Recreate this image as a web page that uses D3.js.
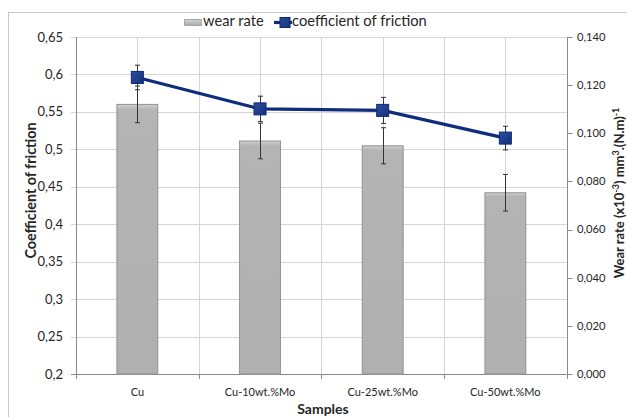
<!DOCTYPE html>
<html><head><meta charset="utf-8">
<script src="https://cdn.jsdelivr.net/npm/d3@7"></script>
<style>body{margin:0;background:#fff}svg{display:block}text{font-family:Lato,"Open Sans",sans-serif;fill:#262626}</style>
</head><body><svg id="c" width="627" height="417"></svg>
<script>
const categories = ["Cu","Cu-10wt.%Mo","Cu-25wt.%Mo","Cu-50wt.%Mo"];
const wearRate = [0.112, 0.0968, 0.0948, 0.0753];
const wearErr = [0.0076, 0.0074, 0.0075, 0.0076];
const cof = [0.596, 0.554, 0.552, 0.515];
const cofErr = [0.0164, 0.017, 0.0174, 0.0158];
const leftTicks = [0.2,0.25,0.3,0.35,0.4,0.45,0.5,0.55,0.6,0.65];
const rightTicks = [0,0.02,0.04,0.06,0.08,0.1,0.12,0.14];

const svg = d3.select("#c");
const X0=76, X1=566.7, YT=37, YB=374;
const x = d3.scaleBand().domain(categories).range([X0,X1]).paddingInner(0).paddingOuter(0);
const yL = d3.scaleLinear().domain([0.2,0.65]).range([YB,YT]);
const yR = d3.scaleLinear().domain([0,0.14]).range([YB,YT]);
const fmtL = d => String(+d.toFixed(2)).replace(".",",");
const fmtR = d => d.toFixed(3).replace(".",",");

// outer border
svg.append("rect").attr("x",8.5).attr("y",12.5).attr("width",640).attr("height",430)
  .attr("fill","none").attr("stroke","#c8c8c8");

const defs = svg.append("defs");
const g1 = defs.append("linearGradient").attr("id","barg").attr("x1",0).attr("x2",0).attr("y1",0).attr("y2",1);
g1.append("stop").attr("offset",0).attr("stop-color","#d0d0d0");
g1.append("stop").attr("offset",0.02).attr("stop-color","#b4b4b4");
g1.append("stop").attr("offset",1).attr("stop-color","#b0b0b0");
const g3 = defs.append("linearGradient").attr("id","legg").attr("x1",0).attr("x2",0).attr("y1",0).attr("y2",1);
g3.append("stop").attr("offset",0).attr("stop-color","#d4d4d4");
g3.append("stop").attr("offset",1).attr("stop-color","#aaaaaa");
const g2 = defs.append("linearGradient").attr("id","mk").attr("x1",0).attr("x2",1).attr("y1",0).attr("y2",1);
g2.append("stop").attr("offset",0).attr("stop-color","#2c4ea0");
g2.append("stop").attr("offset",1).attr("stop-color","#14307a");

// horizontal gridlines
svg.append("g").selectAll("line").data(leftTicks).join("line")
  .attr("x1",X0-5).attr("x2",X1).attr("y1",d=>Math.round(yL(d))+0.5).attr("y2",d=>Math.round(yL(d))+0.5)
  .attr("stroke",d=>d===0.2?"#8a8a8a":"#d4d4d4");
// vertical gridlines at half-category steps
const vlines = [];
categories.forEach(c=>{vlines.push(x(c)); vlines.push(x(c)+x.bandwidth()/2);});
vlines.push(X1);
svg.append("g").selectAll("line").data(vlines).join("line")
  .attr("x1",d=>Math.round(d)+0.5).attr("x2",d=>Math.round(d)+0.5).attr("y1",YT).attr("y2",YB)
  .attr("stroke",(d,i)=>(i===0||i===vlines.length-1)?"#8a8a8a":"#d4d4d4");
// bottom ticks at category boundaries
svg.append("g").selectAll("line").data(categories.map(c=>x(c)).concat([X1])).join("line")
  .attr("x1",d=>Math.round(d)+0.5).attr("x2",d=>Math.round(d)+0.5).attr("y1",YB).attr("y2",YB+5).attr("stroke","#8a8a8a");
// right ticks
svg.append("g").selectAll("line").data(rightTicks).join("line")
  .attr("x1",Math.round(X1)+0.5).attr("x2",Math.round(X1)+5.5).attr("y1",d=>Math.round(yR(d))+0.5).attr("y2",d=>Math.round(yR(d))+0.5).attr("stroke","#8a8a8a");

// tick labels
svg.append("g").selectAll("text").data(leftTicks).join("text")
  .attr("x",63).attr("y",d=>yL(d)).attr("dy","0.35em").attr("text-anchor","end")
  .attr("font-size",13).text(fmtL);
svg.append("g").selectAll("text").data(rightTicks).join("text")
  .attr("x",577).attr("y",d=>yR(d)).attr("dy","0.35em").attr("font-size",11.2).text(fmtR);
svg.append("g").selectAll("text").data(categories).join("text")
  .attr("x",d=>x(d)+x.bandwidth()/2).attr("y",396).attr("text-anchor","middle")
  .attr("font-size",11).text(d=>d);

// bars
const bw = x.bandwidth()/3;
svg.append("g").selectAll("rect").data(categories).join("rect")
  .attr("x",d=>x(d)+x.bandwidth()/2-bw/2).attr("width",bw)
  .attr("y",(d,i)=>yR(wearRate[i])).attr("height",(d,i)=>YB-yR(wearRate[i]))
  .attr("fill","url(#barg)").attr("stroke","#929292").attr("stroke-width",1);

function errBars(vals, errs, scale){
  const g = svg.append("g").attr("stroke","#333").attr("stroke-width",1);
  categories.forEach((c,i)=>{
    const cx = Math.round(x(c)+x.bandwidth()/2)+0.5;
    const a = scale(vals[i]+errs[i]), b = scale(vals[i]-errs[i]);
    g.append("line").attr("x1",cx).attr("x2",cx).attr("y1",a).attr("y2",b);
    g.append("line").attr("x1",cx-2.5).attr("x2",cx+2.5).attr("y1",a).attr("y2",a);
    g.append("line").attr("x1",cx-2.5).attr("x2",cx+2.5).attr("y1",b).attr("y2",b);
  });
}
errBars(wearRate, wearErr, yR);

// line
const line = d3.line().x(d=>x(d.c)+x.bandwidth()/2).y(d=>yL(d.v));
const pts = categories.map((c,i)=>({c,v:cof[i]}));
svg.append("path").datum(pts).attr("d",line).attr("fill","none").attr("stroke","#0d2d7d").attr("stroke-width",3.2);
errBars(cof, cofErr, yL);
svg.append("g").selectAll("rect").data(pts).join("rect")
  .attr("x",d=>x(d.c)+x.bandwidth()/2-6).attr("y",d=>yL(d.v)-6).attr("width",12).attr("height",12)
  .attr("fill","url(#mk)").attr("stroke","#0d2a70").attr("stroke-width",1);

// legend
svg.append("rect").attr("x",184.5).attr("y",19.5).attr("width",17).attr("height",6).attr("fill","url(#legg)").attr("stroke","#a8a8a8");
svg.append("text").attr("x",203).attr("y",26).attr("font-size",14.7).text("wear rate");
svg.append("line").attr("x1",274).attr("x2",292).attr("y1",22.5).attr("y2",22.5).attr("stroke","#0d2d7d").attr("stroke-width",3.2);
svg.append("rect").attr("x",280).attr("y",17.5).attr("width",10).attr("height",10).attr("fill","url(#mk)").attr("stroke","#0d2a70");
svg.append("text").attr("x",292).attr("y",26).attr("font-size",14.7).text("coefficient of friction");

// axis titles
svg.append("text").attr("transform","translate(36,190.5) rotate(-90)").attr("text-anchor","middle")
  .attr("font-size",14.3).attr("font-weight","bold").text("Coefficient of friction");
const rt = svg.append("text").attr("transform","translate(624,193) rotate(-90)").attr("text-anchor","middle")
  .attr("font-size",13).attr("font-weight","bold");
rt.append("tspan").text("Wear rate (x10");
rt.append("tspan").attr("dy",-5).attr("font-size",9).text("-3");
rt.append("tspan").attr("dy",5).text(") mm");
rt.append("tspan").attr("dy",-5).attr("font-size",9).text("3");
rt.append("tspan").attr("dy",5).text(".(N.m)");
rt.append("tspan").attr("dy",-5).attr("font-size",9).text("-1");
svg.append("text").attr("x",323).attr("y",414).attr("text-anchor","middle")
  .attr("font-size",14).attr("font-weight","bold").text("Samples");
</script></body></html>
